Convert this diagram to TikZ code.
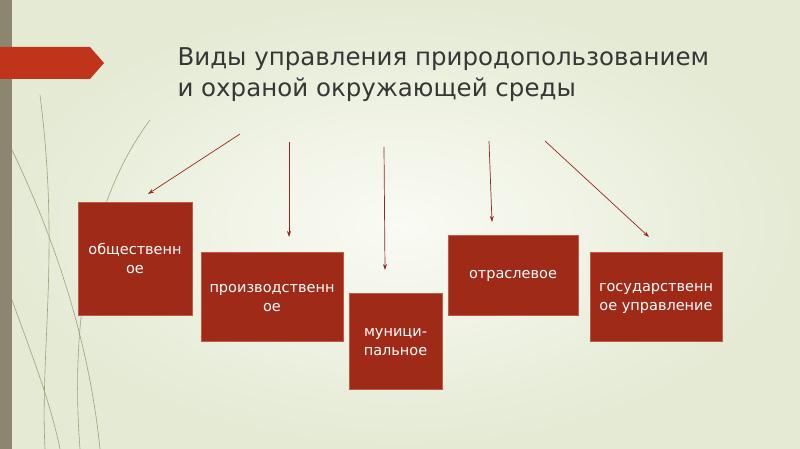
\documentclass[tikz,border=0pt]{standalone}
\usepackage{fontspec}
\setmainfont{DejaVu Sans}
\usetikzlibrary{arrows.meta,shapes.arrows}
\definecolor{bgc}{RGB}{228,234,212}
\definecolor{bgl}{RGB}{250,251,244}
\definecolor{boxred}{RGB}{160,42,24}
\definecolor{boxedge}{RGB}{190,90,70}
\definecolor{arr}{RGB}{150,40,30}
\definecolor{bann}{RGB}{192,52,28}
\definecolor{strip}{RGB}{140,134,112}
\definecolor{titc}{RGB}{55,55,55}
\definecolor{deco}{RGB}{150,165,120}
\tikzset{
 redbox/.style={fill=boxred,draw=boxedge,line width=0.8pt},
 boxtxt/.style={text=white,font=\fontsize{14.5}{19}\selectfont,align=center},
 conn/.style={draw=arr,line width=0.7pt,-{Stealth[length=6pt,width=4pt]}},
}
\begin{document}
\begin{tikzpicture}[x=1pt,y=-1pt]
\useasboundingbox (0,0) rectangle (800,449);
\shade[inner color=bgl,outer color=bgc] (0,0) rectangle (800,449);
\fill[strip] (0,0) rectangle (12,449);
% decorative curves
\draw[deco,line width=0.6pt] (40,95) .. controls (60,250) and (40,350) .. (45,449);
\draw[deco,line width=0.6pt] (150,120) .. controls (90,200) and (70,320) .. (80,449);
\draw[deco,line width=0.6pt] (12,150) .. controls (60,250) and (90,350) .. (100,449);
\draw[deco,line width=0.6pt] (12,300) .. controls (30,350) and (50,400) .. (60,449);
% banner
\fill[bann] (0,47) -- (90,47) -- (104,63) -- (90,79) -- (0,79) -- cycle;
% title
\node[anchor=west,text=titc,font=\fontsize{24.5}{31}\selectfont,align=left] (title) at (174,75) {Виды управления природопользованием\\и охраной окружающей среды};
% boxes
\node[redbox,minimum width=114,minimum height=113,anchor=north west] (b1) at (78,202) {};
\node[boxtxt] at (135,258) {общественн\\ое};
\node[redbox,minimum width=142,minimum height=89,anchor=north west] (b2) at (201,252) {};
\node[boxtxt] at (272,298) {производственн\\ое};
\node[redbox,minimum width=93,minimum height=96,anchor=north west] (b3) at (349,293) {};
\node[boxtxt] at (395.5,342) {муници-\\пальное};
\node[redbox,minimum width=130,minimum height=80,anchor=north west] (b4) at (448,235) {};
\node[boxtxt] at (513,276) {отраслевое};
\node[redbox,minimum width=132,minimum height=89,anchor=north west] (b5) at (590,252) {};
\node[boxtxt] at (656,298) {государственн\\ое управление};
% arrows
\coordinate (s1) at (240,134); \coordinate (e1) at (148,194);
\coordinate (s2) at (289,142); \coordinate (e2) at (289,237);
\coordinate (s3) at (384,147); \coordinate (e3) at (385,270);
\coordinate (s4) at (489,141); \coordinate (e4) at (492,222);
\coordinate (s5) at (545,141); \coordinate (e5) at (649,237);
\draw[conn] (s1) -- (e1);
\draw[conn] (s2) -- (e2);
\draw[conn] (s3) -- (e3);
\draw[conn] (s4) -- (e4);
\draw[conn] (s5) -- (e5);
\end{tikzpicture}
\end{document}
